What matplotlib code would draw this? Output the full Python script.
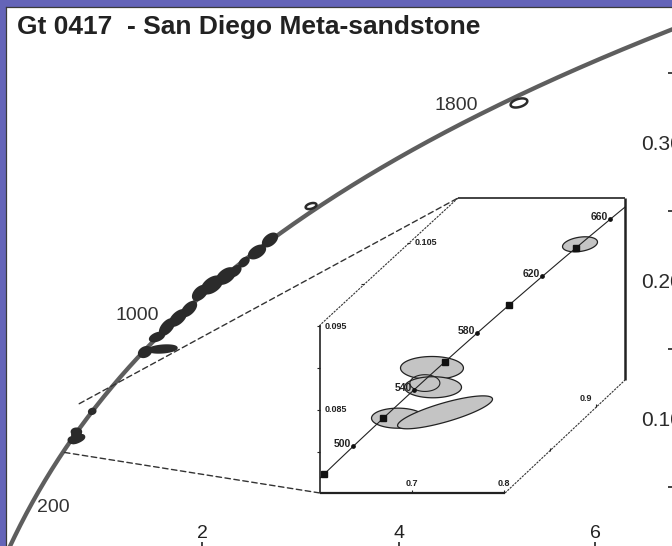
import numpy as np
import matplotlib
matplotlib.use("Agg")
import matplotlib.pyplot as plt
from matplotlib.patches import Polygon, ConnectionPatch
from matplotlib.ticker import FixedLocator, FixedFormatter

plt.rcParams["font.family"] = ["Liberation Sans", "DejaVu Sans"]

# decay constants (1/yr)
L238 = 1.55125e-10
L235 = 9.8485e-10

# concordia age labels (Ma)
main_ages = [200, 1000, 1800]
inset_label_ages = [500, 540, 580, 620, 660]
inset_tick_ages = [480, 520, 560, 600, 640]

# analyses drawn dark on the main diagram: 207Pb/235U, 206Pb/238U, 2s errors, rho
dark_x = [1.420, 1.600, 1.542, 1.644, 1.756, 1.868, 1.980, 2.102, 2.244, 2.340, 2.428, 2.560, 2.692]
dark_y = [0.1478, 0.1500, 0.1587, 0.1659, 0.1725, 0.1790, 0.1906, 0.1964, 0.2029, 0.2065, 0.2130, 0.2203, 0.2290]
dark_sx = [0.06, 0.14, 0.07, 0.07, 0.08, 0.07, 0.07, 0.10, 0.09, 0.05, 0.045, 0.08, 0.07]
dark_sy = [0.0035, 0.0025, 0.0030, 0.0055, 0.0055, 0.0050, 0.0050, 0.0060, 0.0055, 0.0035, 0.0030, 0.0045, 0.0045]
dark_rho = [0.3, 0.3, 0.5, 0.6, 0.6, 0.6, 0.5, 0.5, 0.5, 0.5, 0.5, 0.5, 0.5]

# open (unfilled) analyses
open_x = [3.110, 5.226]
open_y = [0.2536, 0.3283]
open_sx = [0.055, 0.085]
open_sy = [0.0022, 0.0033]
open_rho = [0.4, 0.4]

# young grains shown enlarged in the inset
grey_x = [0.8826, 0.7217, 0.7228, 0.6848, 0.7359]
grey_y = [0.1048, 0.0900, 0.0877, 0.0840, 0.0847]
grey_sx = [0.019, 0.0342, 0.031, 0.0288, 0.0516]
grey_sy = [0.0009, 0.00138, 0.00126, 0.0012, 0.00197]
grey_rho = [0.3, 0.0, 0.0, 0.0, 0.8]

# inner outline-only ellipse
ring_x, ring_y, ring_sx, ring_sy, ring_rho = 0.714, 0.0882, 0.0163, 0.0010, 0.0

# axis ticks
x_major = [2, 4, 6]
y_major = [0.10, 0.20, 0.30]
y_minor = [0.05, 0.15, 0.25, 0.35]
inset_left_ticks = [0.080, 0.085, 0.090, 0.095]
inset_left_labels = [0.085, 0.095]
inset_diag_ticks = [0.100, 0.105]
inset_bottom_ticks = [0.7, 0.8]
inset_rdiag_ticks = [0.85, 0.9]


def concordia(t_ma):
    t = np.asarray(t_ma, dtype=float) * 1e6
    return np.exp(L235 * t) - 1, np.exp(L238 * t) - 1


def ellipse_xy(x, y, sx, sy, rho, n=120):
    t = np.linspace(0, 2 * np.pi, n)
    ex = x + sx * np.cos(t)
    ey = y + sy * (rho * np.cos(t) + np.sqrt(1 - rho ** 2) * np.sin(t))
    return np.column_stack([ex, ey])


W, H = 672, 546
fig = plt.figure(figsize=(W / 100, H / 100), dpi=100, facecolor="#6464b8")

# ---------------- main concordia diagram ----------------
ax = fig.add_axes([6 / W, 0, 666 / W, 539 / H])
ax.set_facecolor("white")
ax.set_xlim(0.0051, 6.7837)
ax.set_ylim(0.00725, 0.39783)
for s in ("bottom", "right"):
    ax.spines[s].set_visible(False)
for s in ("left", "top"):
    ax.spines[s].set_color("#3a3a3a")
    ax.spines[s].set_linewidth(0.9)

ax.xaxis.set_major_locator(FixedLocator(x_major))
ax.xaxis.set_major_formatter(FixedFormatter([str(v) for v in x_major]))
ax.tick_params(axis="x", direction="in", length=3, width=1.2, color="#222222",
               pad=-15, labelsize=14, labelcolor="#222222", top=False)
ax.yaxis.tick_right()
ax.yaxis.set_major_locator(FixedLocator(y_major))
ax.yaxis.set_major_formatter(FixedFormatter(["%.2f" % v for v in y_major]))
ax.yaxis.set_minor_locator(FixedLocator(y_minor))
ax.tick_params(axis="y", which="major", length=0, pad=-22.5, labelsize=15,
               labelcolor="#2a2a2a")
ax.tick_params(axis="y", which="minor", direction="in", length=3, width=1.2,
               color="#222222")
for lab in ax.get_yticklabels():
    lab.set_horizontalalignment("left")

tt = np.linspace(0, 2400, 600)
cx, cy = concordia(tt)
ax.plot(cx, cy, color="#5e5e5e", lw=3.1, solid_capstyle="round", zorder=2)

offsets = {200: (18.7, 3.6), 1000: (-23.8, 6.5), 1800: (-21.5, 4.6)}
for a in main_ages:
    px, py = concordia(a)
    ax.annotate(str(a), (px, py), xytext=offsets[a], textcoords="offset points",
                ha="center", va="center", fontsize=14, color="#333333")

for x, y, sx, sy, r in zip(dark_x, dark_y, dark_sx, dark_sy, dark_rho):
    ax.add_patch(Polygon(ellipse_xy(x, y, sx, sy, r), closed=True, fc="#2b2b2b",
                         ec="#2b2b2b", lw=1.8, zorder=3))
for x, y, sx, sy, r in zip(grey_x, grey_y, grey_sx, grey_sy, grey_rho):
    ax.add_patch(Polygon(ellipse_xy(x, y, sx, sy, r), closed=True, fc="#2b2b2b",
                         ec="#2b2b2b", lw=3.5, zorder=3))
for x, y, sx, sy, r in zip(open_x, open_y, open_sx, open_sy, open_rho):
    ax.add_patch(Polygon(ellipse_xy(x, y, sx, sy, r), closed=True, fc="white",
                         ec="#2b2b2b", lw=1.8, zorder=3))

fig.text(17 / W, 1 - 27 / H, "Gt 0417  - San Diego Meta-sandstone",
         family=["Liberation Sans Narrow", "Liberation Sans", "DejaVu Sans"],
         weight="bold", fontsize=19, color="#222222", ha="left", va="center")

# ---------------- enlarged inset ----------------
X0, X1, Y0, Y1 = 0.6, 0.9315, 0.07505, 0.11034
ya, xb = 0.09514, 0.75          # upper-left bevel
xc, yd = 0.8011, 0.08856        # lower-right bevel

ax2 = fig.add_axes([320 / W, 53 / H, 305 / W, 295 / H])
ax2.set_xlim(X0, X1)
ax2.set_ylim(Y0, Y1)
ax2.axis("off")
ax2.patch.set_visible(False)

hexv = [(X0, ya), (X0, Y0), (xc, Y0), (X1, yd), (X1, Y1), (xb, Y1)]
hexpatch = Polygon(hexv, closed=True, fc="white", ec="none", zorder=0)
ax2.add_patch(hexpatch)

def seg(p, q, **kw):
    ax2.plot([p[0], q[0]], [p[1], q[1]], clip_on=False, solid_capstyle="butt", **kw)

seg(hexv[0], hexv[1], color="#222222", lw=1.2)
seg(hexv[1], hexv[2], color="#222222", lw=1.6)
seg(hexv[2], hexv[3], color="#333333", lw=0.8, ls=(0, (2, 1)))
seg(hexv[3], hexv[4], color="#222222", lw=1.8)
seg(hexv[4], hexv[5], color="#222222", lw=1.2)
seg(hexv[5], hexv[0], color="#333333", lw=0.8, ls=(0, (2, 1)))

# dashed guide lines from the main diagram to the inset corners
for p in [(X0, Y0), (xb, Y1)]:
    con = ConnectionPatch(xyA=p, coordsA=ax.transData, xyB=p, coordsB=ax2.transData,
                          color="#333333", lw=1.0, ls=(0, (4, 2.5)), zorder=1)
    fig.add_artist(con)

ti = np.linspace(440, 720, 300)
ix, iy = concordia(ti)
ln, = ax2.plot(ix, iy, color="#222222", lw=0.8, zorder=4)
ln.set_clip_path(hexpatch)

for x, y, sx, sy, r in zip(grey_x, grey_y, grey_sx, grey_sy, grey_rho):
    ax2.add_patch(Polygon(ellipse_xy(x, y, sx, sy, r), closed=True, fc="#c4c4c4",
                          ec="#222222", lw=0.9, zorder=3))
ax2.add_patch(Polygon(ellipse_xy(ring_x, ring_y, ring_sx, ring_sy, ring_rho), closed=True,
                      fc="none", ec="#222222", lw=0.8, zorder=5))

tx, ty = concordia(inset_tick_ages)
ax2.plot(tx, ty, ls="none", marker="s", ms=4.5, color="#111111", zorder=6)
lx, ly = concordia(inset_label_ages)
ax2.plot(lx, ly, ls="none", marker="o", ms=2.4, color="#111111", zorder=6)
for a, x, y in zip(inset_label_ages, lx, ly):
    ax2.annotate(str(a), (x, y), xytext=(-1.5, 1.5), textcoords="offset points",
                 ha="right", va="center", fontsize=7.5, weight="bold", color="#222222",
                 zorder=7)

small = dict(fontsize=6.5, weight="bold", color="#222222")
ax2.plot([X0] * len(inset_left_ticks), inset_left_ticks, ls="none", marker=0, ms=2.5,
         color="#222222", mew=0.8, clip_on=False)
for v in inset_left_labels:
    ax2.annotate("%.3f" % v, (X0, v), xytext=(3, 0), textcoords="offset points",
                 ha="left", va="center", **small)
for v in inset_diag_ticks:
    x = X0 + (v - ya) / (Y1 - ya) * (xb - X0)
    ax2.plot([x], [v], marker=0, ms=2.5, color="#222222", mew=0.8, clip_on=False)
    if abs(v - 0.105) < 1e-9:
        ax2.annotate("%.3f" % v, (x, v), xytext=(4, 0), textcoords="offset points",
                     ha="left", va="center", **small)
ax2.plot(inset_bottom_ticks, [Y0] * len(inset_bottom_ticks), ls="none", marker=2, ms=2.5,
         color="#222222", mew=0.8, clip_on=False)
for v in inset_bottom_ticks:
    ax2.annotate("%.1f" % v, (v, Y0), xytext=(0, 3.5), textcoords="offset points",
                 ha="center", va="bottom", **small)
for v in inset_rdiag_ticks:
    y = Y0 + (v - xc) / (X1 - xc) * (yd - Y0)
    ax2.plot([v], [y], marker=2, ms=2.5, color="#222222", mew=0.8, clip_on=False)
    if abs(v - 0.9) < 1e-9:
        ax2.annotate("%.1f" % v, (v, y), xytext=(-3, 3), textcoords="offset points",
                     ha="right", va="bottom", **small)

fig.savefig("out.png", dpi=100, facecolor=fig.get_facecolor())
